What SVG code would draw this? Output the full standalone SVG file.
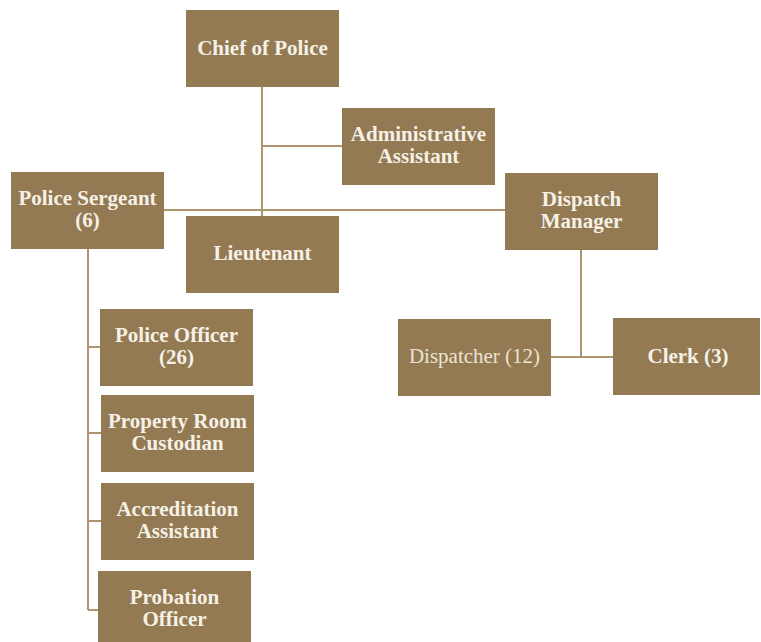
<svg xmlns="http://www.w3.org/2000/svg" width="761" height="642" viewBox="0 0 761 642">
<style>
.box{fill:#937a52}
.t{font-family:'Liberation Serif','DejaVu Serif',serif;font-size:21px;font-weight:bold;fill:#f6f1e7;text-anchor:middle}
.r{font-weight:normal;fill:#ece4d4}
.c{stroke:#ae9570;stroke-width:2;fill:none}
</style>
<rect width="761" height="642" fill="#ffffff"/>
<g id="connectors">
<path class="c" d="M262 87V216M262 146H342M164 210H505M88 249V610M88 347H100M88 433H101M88 521H101M88 610H98M581 250V357M551 357H613"/>
</g>
<g id="chief"><rect class="box" x="186" y="10" width="153" height="77"/><text class="t" x="262.5" y="55">Chief of Police</text></g>
<g id="admin"><rect class="box" x="342" y="108" width="153" height="77"/><text class="t" x="418.5" y="141">Administrative</text><text class="t" x="418.5" y="163">Assistant</text></g>
<g id="sergeant"><rect class="box" x="11" y="172" width="153" height="77"/><text class="t" x="87.5" y="205">Police Sergeant</text><text class="t" x="87.5" y="227">(6)</text></g>
<g id="lieutenant"><rect class="box" x="186" y="216" width="153" height="77"/><text class="t" x="262.5" y="260">Lieutenant</text></g>
<g id="dispatchmgr"><rect class="box" x="505" y="173" width="153" height="77"/><text class="t" x="581.5" y="206">Dispatch</text><text class="t" x="581.5" y="228">Manager</text></g>
<g id="dispatcher"><rect class="box" x="398" y="319" width="153" height="77"/><text class="t r" x="474.5" y="363">Dispatcher (12)</text></g>
<g id="clerk"><rect class="box" x="613" y="318" width="147" height="77"/><text class="t" x="688" y="363">Clerk (3)</text></g>
<g id="officer"><rect class="box" x="100" y="309" width="153" height="77"/><text class="t" x="176.5" y="342">Police Officer</text><text class="t" x="176.5" y="364">(26)</text></g>
<g id="property"><rect class="box" x="101" y="395" width="153" height="77"/><text class="t" x="177.5" y="428">Property Room</text><text class="t" x="177.5" y="450">Custodian</text></g>
<g id="accreditation"><rect class="box" x="101" y="483" width="153" height="77"/><text class="t" x="177.5" y="516">Accreditation</text><text class="t" x="177.5" y="538">Assistant</text></g>
<g id="probation"><rect class="box" x="98" y="571" width="153" height="77"/><text class="t" x="174.5" y="604">Probation</text><text class="t" x="174.5" y="626">Officer</text></g>
</svg>
